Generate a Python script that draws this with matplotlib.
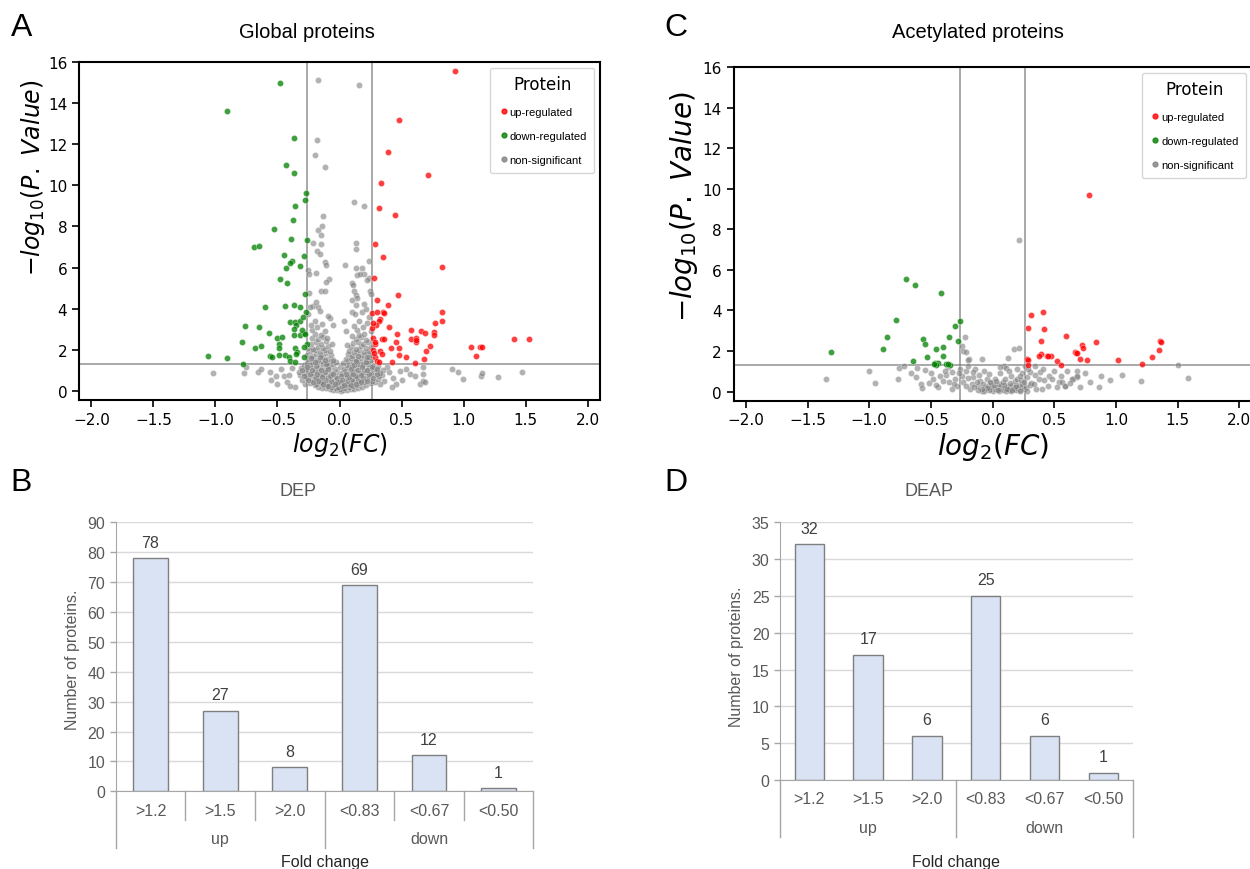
import numpy as np
import matplotlib
matplotlib.use('Agg')
import matplotlib.pyplot as plt
from matplotlib.transforms import blended_transform_factory

# ---------------- data ----------------
# panel A (global proteins): (log2 FC, -log10 p)
a_up = [(0.935, 15.56), (0.476, 13.2), (0.395, 11.6), (0.712, 10.5), (0.333, 10.1), (0.315, 8.9),
        (0.45, 8.56), (0.29, 7.16), (0.352, 6.52), (0.825, 6.05), (0.28, 5.48), (0.473, 4.64),
        (0.306, 4.44), (0.387, 4.2), (0.26, 3.79), (0.30, 3.86), (0.35, 3.86), (0.357, 3.78),
        (0.825, 3.86), (0.33, 3.48), (0.315, 3.42), (0.83, 3.39), (0.77, 3.32), (0.298, 3.19),
        (0.40, 3.1), (0.264, 3.08), (0.58, 2.97), (0.653, 2.9), (0.69, 2.79), (0.764, 2.85),
        (0.758, 2.74), (0.46, 2.77), (0.27, 2.56), (0.34, 2.53), (0.36, 2.53), (0.578, 2.54),
        (0.615, 2.59), (0.62, 2.37), (0.615, 2.45), (0.455, 2.37), (1.406, 2.5), (1.53, 2.53),
        (0.285, 2.27), (0.417, 2.1), (0.478, 2.06), (0.726, 2.19), (1.062, 2.15), (1.13, 2.15),
        (1.15, 2.12), (0.328, 1.95), (0.344, 1.8), (0.696, 1.95), (0.478, 1.73), (0.54, 1.65),
        (0.68, 1.56), (1.10, 1.7), (0.288, 1.63), (0.30, 1.43), (0.316, 1.41), (0.425, 1.38),
        (0.607, 1.33), (0.27, 2.0), (0.28, 1.85), (0.27, 3.3), (0.29, 2.4)]
a_down = [(-0.476, 15.0), (-0.91, 13.6), (-0.365, 12.3), (-0.433, 11.0), (-0.363, 10.6), (-0.27, 9.65),
          (-0.28, 9.3), (-0.357, 9.0), (-0.371, 8.3), (-0.524, 7.9), (-0.387, 7.4), (-0.266, 7.33),
          (-0.69, 7.0), (-0.65, 7.03), (-0.45, 6.63), (-0.29, 6.58), (-0.38, 6.34), (-0.40, 6.23),
          (-0.43, 5.97), (-0.317, 6.08), (-0.476, 5.43), (-0.425, 5.27), (-0.277, 4.72), (-0.597, 4.07),
          (-0.44, 4.13), (-0.363, 4.18), (-0.317, 4.1), (-0.274, 3.83), (-0.403, 3.37), (-0.36, 3.37),
          (-0.32, 3.4), (-0.296, 3.57), (-0.35, 3.2), (-0.37, 3.0), (-0.758, 3.15), (-0.65, 3.1),
          (-0.57, 2.82), (-0.37, 2.7), (-0.317, 2.7), (-0.29, 2.82), (-0.505, 2.58), (-0.465, 2.6),
          (-0.79, 2.4), (-0.49, 2.3), (-0.266, 2.3), (-0.685, 2.07), (-0.63, 2.2), (-0.49, 2.09),
          (-0.36, 2.1), (-0.288, 2.12), (-0.34, 1.91), (-0.35, 1.81), (-1.06, 1.70), (-0.906, 1.62),
          (-0.56, 1.68), (-0.546, 1.63), (-0.49, 1.75), (-0.44, 1.73), (-0.41, 1.67), (-0.29, 1.63),
          (-0.777, 1.32), (-0.40, 1.43), (-0.36, 1.38), (-0.30, 2.95), (-0.28, 2.75)]
a_ns_sparse = [(-0.17, 15.15), (0.156, 14.9), (-0.18, 12.2), (-0.2, 11.5), (-0.113, 10.9), (0.113, 9.2),
               (0.2, 9.0), (-0.13, 8.53), (-0.14, 8.04), (-0.175, 7.85), (-0.15, 7.6), (-0.21, 7.2),
               (-0.15, 7.15), (0.134, 7.2), (0.13, 6.9), (-0.18, 6.79), (-0.16, 6.66), (-0.12, 6.26),
               (-0.107, 6.14), (0.048, 6.13), (0.137, 6.0), (-0.255, 5.88), (-0.245, 5.7), (-0.19, 5.72),
               (0.14, 5.65), (-0.086, 5.43), (-0.107, 5.29), (0.1, 5.24), (0.108, 5.17), (0.118, 4.87),
               (-0.153, 4.84), (-0.115, 4.84), (-0.245, 4.78), (0.13, 4.64), (0.143, 4.5), (0.234, 6.3),
               (0.183, 5.97), (0.196, 5.7), (0.167, 5.67), (0.237, 5.48), (0.223, 5.41), (0.248, 4.84),
               (0.253, 4.72), (0.1, 4.43), (-0.075, 3.56), (-0.094, 3.65), (-0.212, 4.12), (-0.24, 4.07),
               (-0.17, 4.07), (0.134, 4.2), (0.1, 3.86), (0.126, 3.73), (0.156, 3.42), (0.054, 2.93),
               (-1.02, 0.86), (-0.77, 0.86), (-0.75, 1.17), (-0.66, 0.9), (-0.63, 1.07), (-0.56, 0.94),
               (-0.55, 0.52), (-0.51, 0.71), (-0.5, 0.31), (-0.45, 0.71), (-0.41, 0.79), (-0.47, 1.05),
               (-0.42, 0.45), (-0.38, 1.1), (-0.36, 0.2), (-0.4, 0.25),
               (0.54, 1.08), (0.91, 1.05), (0.957, 0.94), (0.995, 0.57), (1.137, 0.71), (1.147, 0.89),
               (1.277, 0.68), (1.47, 0.91), (0.67, 1.18), (0.672, 0.83), (0.565, 0.83), (0.605, 0.73),
               (0.645, 0.33), (0.677, 0.49), (0.688, 0.42), (0.49, 0.97), (0.457, 0.33), (0.43, 0.6),
               (0.40, 0.9), (0.38, 1.15), (0.36, 0.5), (0.42, 0.2), (0.5, 0.55), (0.34, 0.75),
               (0.35, 1.0), (0.33, 0.35)]
a_ns_core = [(-0.02, 0.02), (0.01, 0.01), (0.03, 0.04), (-0.05, 0.05), (0.06, 0.06), (-0.08, 0.08),
             (0.09, 0.07), (-0.11, 0.12), (0.12, 0.11), (-0.14, 0.15), (0.15, 0.16), (-0.17, 0.2),
             (0.18, 0.21), (-0.2, 0.26), (0.21, 0.27), (0.0, 0.1), (-0.03, 0.14), (0.04, 0.15),
             (-0.07, 0.18), (0.08, 0.19), (-0.1, 0.22), (0.11, 0.24), (-0.13, 0.27), (0.14, 0.28),
             (-0.01, 0.2), (0.02, 0.25), (-0.05, 0.28), (0.06, 0.3),
             (-0.28, 0.35), (-0.24, 0.4), (-0.19, 0.33), (-0.15, 0.38), (-0.1, 0.35), (-0.06, 0.42),
             (-0.02, 0.36), (0.03, 0.4), (0.07, 0.34), (0.11, 0.43), (0.16, 0.37), (0.2, 0.41),
             (0.25, 0.36), (0.29, 0.45), (-0.3, 0.55), (-0.26, 0.6), (-0.22, 0.52), (-0.18, 0.58),
             (-0.13, 0.5), (-0.09, 0.61), (-0.04, 0.55), (0.0, 0.5), (0.05, 0.6), (0.09, 0.52),
             (0.13, 0.62), (0.17, 0.54), (0.22, 0.59), (0.26, 0.5), (0.31, 0.58), (-0.32, 0.75),
             (-0.27, 0.7), (-0.23, 0.78), (-0.2, 0.68), (-0.16, 0.74), (-0.12, 0.7), (-0.07, 0.77),
             (-0.03, 0.69), (0.02, 0.75), (0.06, 0.71), (0.1, 0.79), (0.14, 0.68), (0.19, 0.76),
             (0.23, 0.72), (0.28, 0.77), (0.32, 0.7),
             (-0.33, 0.9), (-0.29, 0.85), (-0.25, 0.95), (-0.21, 0.88), (-0.17, 0.93), (-0.14, 0.84),
             (-0.1, 0.97), (-0.06, 0.87), (-0.02, 0.94), (0.02, 0.86), (0.05, 0.96), (0.09, 0.89),
             (0.13, 0.95), (0.17, 0.85), (0.21, 0.92), (0.25, 0.88), (0.3, 0.96), (0.33, 0.86),
             (-0.31, 1.1), (-0.27, 1.05), (-0.23, 1.15), (-0.2, 1.02), (-0.16, 1.12), (-0.12, 1.06),
             (-0.08, 1.18), (-0.04, 1.08), (0.0, 1.14), (0.04, 1.04), (0.08, 1.16), (0.12, 1.07),
             (0.16, 1.19), (0.2, 1.03), (0.24, 1.13), (0.28, 1.08), (0.31, 1.2), (-0.29, 1.25),
             (-0.24, 1.28), (-0.18, 1.24), (-0.13, 1.29), (-0.09, 1.22), (-0.05, 1.3), (0.06, 1.27),
             (0.1, 1.23), (0.15, 1.3), (0.19, 1.25), (0.23, 1.29), (0.27, 1.22),
             (-0.26, 1.35), (-0.22, 1.42), (-0.18, 1.38), (-0.14, 1.45), (-0.1, 1.36), (-0.06, 1.44),
             (-0.03, 1.4), (0.03, 1.37), (0.07, 1.46), (0.11, 1.39), (0.15, 1.43), (0.19, 1.36),
             (0.23, 1.44), (0.25, 1.5), (-0.25, 1.55), (-0.21, 1.6), (-0.17, 1.52), (-0.13, 1.63),
             (-0.09, 1.57), (-0.05, 1.5), (0.05, 1.55), (0.09, 1.62), (0.13, 1.53), (0.17, 1.6),
             (0.21, 1.56), (0.24, 1.65), (-0.26, 1.75), (-0.22, 1.7), (-0.19, 1.8), (-0.15, 1.72),
             (-0.11, 1.85), (-0.07, 1.73), (0.07, 1.78), (0.1, 1.7), (0.14, 1.84), (0.18, 1.74),
             (0.22, 1.82), (0.25, 1.72), (-0.24, 1.92), (-0.2, 1.97), (-0.16, 1.9), (-0.12, 1.98),
             (-0.08, 1.93), (0.08, 1.95), (0.12, 1.9), (0.16, 1.99), (0.2, 1.91), (0.24, 1.96),
             (-0.25, 2.1), (-0.21, 2.05), (-0.17, 2.15), (-0.13, 2.08), (-0.09, 2.2), (0.09, 2.12),
             (0.13, 2.04), (0.17, 2.18), (0.21, 2.07), (0.25, 2.15), (-0.23, 2.3), (-0.19, 2.38),
             (-0.15, 2.27), (-0.11, 2.42), (0.11, 2.33), (0.15, 2.4), (0.19, 2.28), (0.23, 2.36),
             (-0.22, 2.55), (-0.17, 2.5), (-0.13, 2.62), (0.13, 2.52), (0.17, 2.6), (0.21, 2.48),
             (-0.2, 2.75), (-0.15, 2.7), (0.16, 2.72), (0.2, 2.78), (-0.1, 2.55), (0.1, 2.65),
             (-0.06, 2.3), (0.06, 2.25),
             (-0.22, 2.95), (-0.18, 3.1), (-0.14, 3.25), (-0.2, 3.4), (-0.12, 2.9), (0.14, 2.95),
             (0.19, 3.1), (0.22, 3.3), (0.12, 3.15), (0.24, 3.6), (-0.25, 3.75), (-0.16, 3.9),
             (0.18, 3.85), (0.21, 4.0), (-0.19, 4.3), (0.2, 4.25), (-0.05, 3.2), (0.04, 3.4),
             (-0.23, 3.2), (0.25, 2.9),
             (-0.15, 0.45), (-0.11, 0.52), (-0.07, 0.47), (-0.19, 0.63), (-0.14, 0.66), (-0.08, 0.72),
             (-0.24, 0.84), (-0.18, 0.8), (-0.12, 0.9), (-0.05, 0.8), (-0.22, 1.0), (-0.15, 1.0),
             (-0.09, 1.05), (-0.26, 1.18), (-0.19, 1.2), (-0.11, 1.3), (-0.2, 1.4), (-0.12, 1.5),
             (-0.23, 1.62), (-0.16, 1.67), (0.15, 0.47), (0.1, 0.55), (0.06, 0.48), (0.19, 0.64),
             (0.13, 0.7), (0.08, 0.66), (0.24, 0.82), (0.17, 0.79), (0.11, 0.84), (0.05, 0.83),
             (0.22, 1.0), (0.15, 1.02), (0.09, 1.08), (0.26, 1.17), (0.18, 1.14), (0.12, 1.28),
             (0.21, 1.39), (0.13, 1.47), (0.22, 1.63), (0.15, 1.68), (-0.02, 0.62), (0.01, 0.7),
             (-0.01, 0.45), (0.02, 0.55), (-0.04, 0.32), (0.04, 0.28), (-0.09, 0.25), (0.09, 0.26),
             (-0.13, 0.32), (0.13, 0.34), (-0.17, 0.48), (0.17, 0.45), (-0.21, 0.45), (0.22, 0.5),
             (-0.25, 0.55), (0.27, 0.6), (-0.29, 0.7), (0.3, 0.8), (-0.3, 1.0), (0.3, 1.05)]

# panel C (acetylated proteins)
c_up = [(0.777, 9.7), (0.31, 3.76), (0.41, 3.92), (0.288, 3.12), (0.42, 3.08), (0.596, 2.75),
        (0.388, 2.51), (0.84, 2.44), (0.72, 2.3), (0.736, 2.16), (1.353, 2.51), (1.364, 2.43),
        (1.348, 2.05), (1.294, 1.69), (0.667, 1.94), (0.677, 1.9), (0.393, 1.85), (0.375, 1.77),
        (0.44, 1.77), (0.469, 1.77), (0.45, 1.77), (0.28, 1.6), (0.29, 1.56), (0.71, 1.6),
        (0.764, 1.54), (1.015, 1.57), (1.21, 1.37), (0.523, 1.49), (0.553, 1.31), (0.29, 1.31),
        (0.68, 1.92)]
c_down = [(-0.704, 5.56), (-0.626, 5.25), (-0.42, 4.87), (-0.78, 3.51), (-0.266, 3.48), (-0.307, 3.25),
          (-0.858, 2.67), (-0.353, 2.67), (-0.566, 2.6), (-0.28, 2.48), (-0.545, 2.34), (-0.4, 2.21),
          (-0.458, 2.11), (-0.89, 2.1), (-1.307, 1.97), (-0.53, 1.72), (-0.4, 1.77), (-0.65, 1.51),
          (-0.47, 1.42), (-0.44, 1.39), (-0.458, 1.33), (-0.377, 1.38), (-0.347, 1.33), (-0.477, 1.36),
          (-0.36, 1.35)]
c_ns = [(0.21, 7.47), (-0.225, 2.7), (-0.245, 2.26), (-0.237, 2.01), (-0.196, 1.6), (-0.09, 1.59),
        (0.169, 2.1), (0.212, 2.15), (0.126, 1.64), (-0.2, 1.57), (-0.22, 1.94), (0.088, 1.28),
        (0.061, 1.2), (0.104, 1.15),
        (-1.35, 0.62), (-1.0, 1.01), (-0.953, 0.42), (-0.766, 0.64), (-0.756, 1.16), (-0.72, 1.28),
        (-0.66, 0.93), (-0.61, 1.15), (-0.58, 0.37), (-0.574, 0.18), (-0.545, 1.08), (-0.52, 0.41),
        (-0.48, 0.62), (-0.44, 0.21), (-0.425, 0.75), (-0.377, 0.82), (-0.358, 0.46), (-0.33, 0.95),
        (-0.304, 0.62), (-0.29, 0.26), (-0.264, 1.11), (-0.25, 0.78), (-0.237, 0.49), (-0.215, 1.03),
        (-0.204, 1.28), (-0.18, 0.13), (-0.17, 0.37), (-0.156, 0.7), (-0.14, 1.11), (-0.123, 0.29),
        (-0.1, 0.54), (-0.088, 0.04), (-0.06, 0.21), (-0.02, 0.13), (-0.5, 0.9), (-0.4, 0.5),
        (-0.36, 1.2), (-0.31, 0.35), (-0.27, 0.9), (-0.22, 0.25), (-0.2, 0.65), (-0.16, 0.95),
        (-0.13, 0.45), (-0.11, 0.8), (-0.08, 0.35), (-0.07, 1.0), (-0.05, 0.6), (-0.04, 0.25),
        (-0.03, 0.85), (-0.01, 0.4), (-0.33, 0.15), (-0.39, 1.0), (-0.46, 0.3), (-0.62, 0.7),
        (0.0, 0.05), (0.02, 0.12), (0.03, 0.2), (0.05, 0.03), (0.06, 0.15), (0.07, 0.25),
        (0.08, 0.08), (0.1, 0.18), (0.11, 0.03), (0.12, 0.28), (0.13, 0.1), (0.14, 0.2),
        (0.15, 0.05), (0.16, 0.32), (0.17, 0.14), (0.18, 0.24), (0.19, 0.06), (0.2, 0.18),
        (0.21, 0.3), (0.22, 0.1), (0.23, 0.22), (0.24, 0.35), (0.25, 0.15), (-0.01, 0.22),
        (-0.03, 0.08), (-0.05, 0.16), (-0.07, 0.05), (-0.09, 0.15), (0.01, 0.3), (0.04, 0.08),
        (0.09, 0.32), (0.12, 0.15), (0.16, 0.08), (0.19, 0.28), (0.22, 0.04), (0.05, 0.38),
        (0.08, 0.45), (0.14, 0.4), (0.18, 0.5), (0.02, 0.6), (0.27, 0.22), (0.28, 0.05),
        (0.3, 0.3), (-0.12, 0.1), (-0.15, 0.2), (0.1, 0.6), (0.15, 0.75), (0.2, 0.62),
        (0.06, 0.9), (0.13, 1.0), (0.24, 0.9), (0.03, 0.5), (-0.02, 0.45),
        (1.5, 1.3), (1.58, 0.67), (0.877, 0.77), (0.864, 0.24), (0.79, 0.46), (0.685, 1.01),
        (0.68, 0.7), (0.65, 0.62), (0.71, 0.24), (0.6, 1.01), (0.59, 0.26), (0.534, 0.46),
        (0.46, 0.78), (0.448, 0.29), (0.385, 0.98), (0.375, 0.62), (0.345, 1.28), (0.35, 0.13),
        (0.31, 0.42), (0.277, 0.7), (0.23, 0.59), (0.196, 1.11), (0.223, 0.78), (0.25, 0.46),
        (0.304, 0.95), (0.331, 0.37), (0.407, 1.11), (0.48, 0.62), (0.52, 0.21), (0.56, 0.46),
        (0.588, 0.29), (0.64, 0.62), (0.683, 0.78), (0.34, 0.8), (0.42, 0.55), (0.5, 1.0),
        (0.55, 0.75), (0.63, 0.4), (0.75, 0.9), (0.95, 0.55), (1.05, 0.8), (1.2, 0.5),
        (0.26, 1.25), (0.29, 1.1), (0.4, 0.15)]

# bar panels
categories = ['>1.2', '>1.5', '>2.0', '<0.83', '<0.67', '<0.50']
groups = ['up', 'down']
dep_counts = [78, 27, 8, 69, 12, 1]
deap_counts = [32, 17, 6, 25, 6, 1]

FC_CUT = np.log2(1.2)
P_CUT = -np.log10(0.05)
SANS = 'Liberation Sans'


def volcano(ax, up, down, ns, lab_size, ylab_xy):
    for pts, col, al in [(ns, 'grey', 0.6), (down, 'green', 0.75), (up, 'red', 0.75)]:
        x, y = zip(*pts)
        ax.scatter(x, y, s=20, c=col, alpha=al, edgecolors='white', linewidths=0.3, zorder=3)
    ax.axvline(-FC_CUT, color='grey', lw=1.2, alpha=0.8, zorder=2)
    ax.axvline(FC_CUT, color='grey', lw=1.2, alpha=0.8, zorder=2)
    ax.axhline(P_CUT, color='grey', lw=1.2, alpha=0.8, zorder=2)
    ax.set_xlim(-2.1, 2.1)
    ax.set_ylim(-0.45, 16)
    ax.set_xticks(np.arange(-2, 2.01, 0.5))
    ax.set_yticks(np.arange(0, 17, 2))
    ax.tick_params(labelsize=11, length=5, width=1.2)
    for s in ax.spines.values():
        s.set_linewidth(1.5)
    ax.set_xlabel(r'$log_2(FC)$', fontsize=lab_size, labelpad=2)
    fig.text(ylab_xy[0] / 1250, 1 - ylab_xy[1] / 870, r'$-log_{10}(P.\ Value)$', rotation=90,
             ha='center', va='center', fontsize=lab_size)
    handles = [plt.Line2D([], [], ls='', marker='o', ms=3.5, color=c, alpha=0.8)
               for c in ['red', 'green', 'grey']]
    leg = ax.legend(handles, ['up-regulated', 'down-regulated', 'non-significant'],
                    title='Protein', loc='upper right', prop={'family': SANS, 'size': 8},
                    handletextpad=0.0, handlelength=1.0, labelspacing=1.25, borderpad=0.7,
                    borderaxespad=0.5, frameon=True, fancybox=True)
    leg.get_title().set_fontsize(12)
    leg.get_frame().set_edgecolor('#cccccc')


def bars(ax, counts, ymax, step, short_seps, lab_y, sep_y, grp_y, fc_y):
    xs = np.arange(len(categories))
    ax.bar(xs, counts, width=0.5, color='#dae3f3', edgecolor='#7f7f7f', lw=1, zorder=3)
    ax.set_xlim(-0.5, 5.5)
    ax.set_ylim(0, ymax)
    ax.set_yticks(np.arange(0, ymax + 1, step))
    ax.set_xticks([])
    ax.yaxis.grid(True, color='#d9d9d9', lw=1)
    ax.set_axisbelow(True)
    for s in ['top', 'right']:
        ax.spines[s].set_visible(False)
    ax.spines['left'].set_color('#a6a6a6')
    ax.spines['bottom'].set_color('#a6a6a6')
    ax.tick_params(axis='y', colors='#a6a6a6', labelcolor='#595959', length=4, width=1, labelsize=11.5)
    for t in ax.get_yticklabels():
        t.set_family(SANS)
    for xi, v in zip(xs, counts):
        ax.annotate(str(v), (xi, v), xytext=(0, 11.5), textcoords='offset points',
                    ha='center', va='center', fontsize=11.5, color='#404040', family=SANS)
    tr = blended_transform_factory(ax.transData, ax.transAxes)
    for xi, c in zip(xs, categories):
        ax.text(xi, lab_y, c, transform=tr, ha='center', va='center', fontsize=11.5,
                color='#595959', family=SANS)
    for xb in [-0.5, 2.5, 5.5]:
        ax.plot([xb, xb], [0, sep_y], transform=tr, color='#a6a6a6', lw=1, clip_on=False)
    if short_seps:
        for xb in [0.5, 1.5, 3.5, 4.5]:
            ax.plot([xb, xb], [0, short_seps], transform=tr, color='#a6a6a6', lw=1, clip_on=False)
    for xg, g in zip([1, 4], groups):
        ax.text(xg, grp_y, g, transform=tr, ha='center', va='center', fontsize=11.5,
                color='#595959', family=SANS)
    ax.text(2.5, fc_y, 'Fold change', transform=tr, ha='center', va='center', fontsize=11.5,
            color='#262626', family=SANS)


fig = plt.figure(figsize=(12.5, 8.7), dpi=100)

ax_a = fig.add_axes([0.0632, 0.539, 0.4168, 0.3885])
volcano(ax_a, a_up, a_down, a_ns_sparse + a_ns_core, 17, (33, 178))
ax_c = fig.add_axes([0.5869, 0.5383, 0.4145, 0.3835])
volcano(ax_c, c_up, c_down, c_ns, 20, (684, 207))

ax_b = fig.add_axes([0.0926, 0.0893, 0.3341, 0.3092])
bars(ax_b, dep_counts, 90, 10, -0.1056, -0.0695, -0.212, -0.177, -0.262)
ax_d = fig.add_axes([0.624, 0.1023, 0.2822, 0.2962])
bars(ax_d, deap_counts, 35, 5, None, -0.0737, -0.222, -0.1835, -0.318)

fig.text(307 / 1250, 1 - 32 / 870, 'Global proteins', ha='center', va='center', fontsize=14.5, family=SANS)
fig.text(978 / 1250, 1 - 32 / 870, 'Acetylated proteins', ha='center', va='center', fontsize=14.5, family=SANS)
fig.text(297.7 / 1250, 1 - 491.7 / 870, 'DEP', ha='center', va='center', fontsize=13, color='#595959', family=SANS)
fig.text(928.7 / 1250, 1 - 491 / 870, 'DEAP', ha='center', va='center', fontsize=13, color='#595959', family=SANS)
fig.text(73 / 1250, 1 - 660 / 870, 'Number of proteins.', rotation=90, ha='center', va='center',
         fontsize=11.5, color='#595959', family=SANS)
fig.text(736.7 / 1250, 1 - 656.7 / 870, 'Number of proteins.', rotation=90, ha='center', va='center',
         fontsize=11.5, color='#595959', family=SANS)

for lab, xp, yp in [('A', 22, 28), ('C', 676, 28), ('B', 21, 483), ('D', 676, 483)]:
    fig.text(xp / 1250, 1 - yp / 870, lab, ha='center', va='center', fontsize=23, family=SANS)

fig.savefig('out.png', dpi=100)
